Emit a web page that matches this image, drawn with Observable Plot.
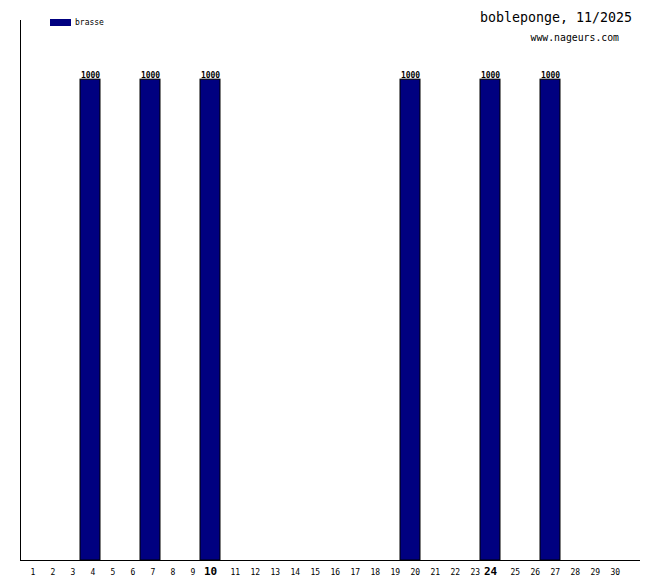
<!DOCTYPE html>
<html><head><meta charset="utf-8">
<script src="https://cdn.jsdelivr.net/npm/d3@7"></script>
<script src="https://cdn.jsdelivr.net/npm/@observablehq/plot@0.6"></script>
<style>
body{margin:0;background:#fff;}
#wrap{position:relative;width:660px;height:580px;font-family:"DejaVu Sans Mono",monospace;}
#title{position:absolute;right:28px;top:10px;font-size:13.3px;color:#000;}
#url{position:absolute;right:41px;top:32px;font-size:9.8px;color:#000;}
#legend{position:absolute;left:50px;top:18px;font-size:8px;display:flex;align-items:center;}
#legend span.sw{display:inline-block;width:21px;height:7px;background:#000080;margin-right:4px;}
</style></head>
<body>
<div id="wrap">
<div id="legend"><span class="sw"></span><span>brasse</span></div>
<div id="title">bobleponge, 11/2025</div>
<div id="url">www.nageurs.com</div>
</div>
<script>
const days = d3.range(1, 31);
const swimDays = [4, 7, 10, 20, 24, 27];
const swimValues = [1000, 1000, 1000, 1000, 1000, 1000];
const boldDays = [10, 24];
const yMax = 1123;

const bars = swimDays.map((d, i) => ({day: d, value: swimValues[i]}));
const normalLabels = days.filter(d => !boldDays.includes(d));

const chart = Plot.plot({
  width: 660,
  height: 580,
  marginLeft: 20,
  marginRight: 20,
  marginTop: 20,
  marginBottom: 20,
  style: {background: "#fff"},
  x: {type: "band", domain: days, range: [20, 620], padding: 0, axis: null},
  y: {domain: [0, yMax], axis: null},
  marks: [
    Plot.barY(bars, {x: "day", y: "value", fill: "#000080", stroke: "#000", strokeWidth: 1, inset: 0}),
    Plot.text(bars, {x: "day", y: "value", text: d => String(d.value), dy: -4, fontSize: 8, fontWeight: "bold", fontFamily: "DejaVu Sans Mono", fill: "#000"}),
    Plot.ruleY([0], {stroke: "#000"}),
    Plot.ruleX([days[0]], {x: d => d, y1: 0, y2: yMax, dx: -10, stroke: "#000"}),
    Plot.text(normalLabels, {x: d => d, frameAnchor: "bottom", dy: 14, text: d => String(d), textAnchor: "start", fontSize: 8, fontFamily: "DejaVu Sans Mono", fill: "#000"}),
    Plot.text(boldDays, {x: d => d, frameAnchor: "bottom", dy: 14, text: d => String(d), textAnchor: "middle", fontSize: 11, fontWeight: "bold", fontFamily: "DejaVu Sans Mono", fill: "#000"})
  ]
});
document.getElementById("wrap").appendChild(chart);
chart.style.position = "absolute";
chart.style.left = "0";
chart.style.top = "0";
chart.style.zIndex = "0";
document.querySelectorAll("#legend,#title,#url").forEach(e => e.style.zIndex = "1");
</script>
</body></html>
